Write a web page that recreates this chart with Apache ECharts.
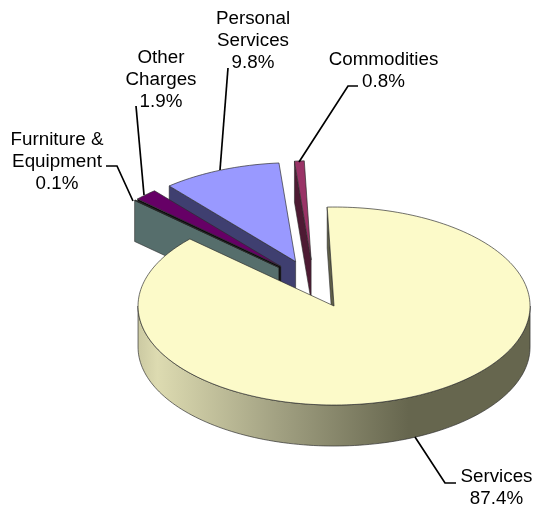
<!DOCTYPE html>
<html><head><meta charset="utf-8">
<style>html,body{margin:0;padding:0;background:#fff}#c{width:534px;height:508px}</style>
<script src="https://cdn.jsdelivr.net/npm/echarts@6/dist/echarts.min.js"></script>
</head><body><div id="c"></div>
<script>
// Slices listed counter-clockwise from the Services start edge, which is also back-to-front order
const categories = ['Commodities', 'Personal Services', 'Other Charges', 'Furniture & Equipment', 'Services'];
const labelLines = ['Commodities', 'Personal\nServices', 'Other\nCharges', 'Furniture &\nEquipment', 'Services'];
const shares = [0.8, 9.8, 1.9, 0.1, 87.4];

// Presentation
const topColors = ['#993366', '#9999FF', '#660066', '#101818', '#FCFAC9'];
const wallColors = ['#4D1A33', '#3F3F70', '#0A0A0A', '#566E6C', '#5F5F48'];
const labelCentres = [[383.5, 71], [253, 41], [161, 79.5], [57, 162], [496.5, 488]];
const leaders = [
  [[358, 86], [348, 86], [299, 162]],
  [[228, 68], [220, 170]],
  [[136, 106], [144, 195]],
  [[106, 166], [117, 166], [133, 201]],
  [[415, 437], [445, 483], [456, 483]]
];
const CX = 314, CY = 284, RX = 196, RY = 99, DEPTH = 41, EXPLODE = 48, START = 358;
const KY = RY / RX;

function pt(cx, cy, deg, r) {
  const a = deg * Math.PI / 180;
  return [cx + r * Math.sin(a), cy - r * KY * Math.cos(a)];
}
function arc(cx, cy, a0, a1) {
  const pts = [], n = Math.max(2, Math.ceil(Math.abs(a1 - a0) / 1.5));
  for (let i = 0; i <= n; i++) pts.push(pt(cx, cy, a0 + (a1 - a0) * i / n, RX));
  return pts;
}
function down(p) { return [p[0], p[1] + DEPTH]; }

const wallGradient = new echarts.graphic.LinearGradient(0, 0, 1, 0, [
  { offset: 0, color: '#CBC9A2' },
  { offset: 0.05, color: '#DDDBB1' },
  { offset: 0.35, color: '#A3A283' },
  { offset: 0.69, color: '#66664E' },
  { offset: 1, color: '#66664E' }
]);

function renderSlice(params, api) {
  const i = params.dataIndex;
  let cum = 0;
  for (let k = 0; k < i; k++) cum += shares[k];
  const v = api.value(1);
  const a1 = START - cum * 3.6;        // clockwise end
  const a0 = a1 - v * 3.6;             // clockwise start
  const mid = (a0 + a1) / 2;
  const off = pt(0, 0, mid, EXPLODE);
  const ax = CX + off[0], ay = CY + off[1];
  const edge = 'rgba(45,45,45,0.85)';
  const children = [];
  const outerStart = pt(ax, ay, a0, RX);
  // start-edge wall
  children.push({ type: 'polygon', shape: { points: [outerStart, [ax, ay], [ax, ay + DEPTH], down(outerStart)] },
    style: { fill: wallColors[i], stroke: edge, lineWidth: 0.7 } });
  // outer wall: only the part facing the viewer
  const w0 = Math.max(a0, 90), w1 = Math.min(a1, 270);
  if (w1 > w0) {
    const rim = arc(ax, ay, w0, w1);
    children.push({ type: 'polygon', shape: { points: rim.concat(rim.map(down).reverse()) },
      style: { fill: wallGradient, stroke: edge, lineWidth: 0.8 } });
  }
  // top face
  children.push({ type: 'polygon', shape: { points: [[ax, ay]].concat(arc(ax, ay, a0, a1)) },
    style: { fill: topColors[i], stroke: edge, lineWidth: 0.8, lineJoin: 'miter' } });
  // leader and label
  children.push({ type: 'polyline', shape: { points: leaders[i] },
    style: { fill: 'none', stroke: '#000', lineWidth: 1.7 }, z2: 50 });
  children.push({ type: 'text', z2: 60, style: {
    text: labelLines[i] + '\n' + v.toFixed(1) + '%',
    x: labelCentres[i][0], y: labelCentres[i][1],
    align: 'center', verticalAlign: 'middle',
    fontFamily: '"Liberation Sans", Arial, sans-serif', fontSize: 18.8, lineHeight: 22, fill: '#000' } });
  return { type: 'group', children };
}

const chart = echarts.init(document.getElementById('c'), null, { renderer: 'canvas' });
chart.setOption({
  backgroundColor: '#fff',
  animation: false,
  tooltip: { show: false },
  series: [{
    type: 'custom',
    coordinateSystem: 'none',
    renderItem: renderSlice,
    data: categories.map((name, i) => ({ name, value: [i, shares[i]] }))
  }]
});
</script></body></html>
